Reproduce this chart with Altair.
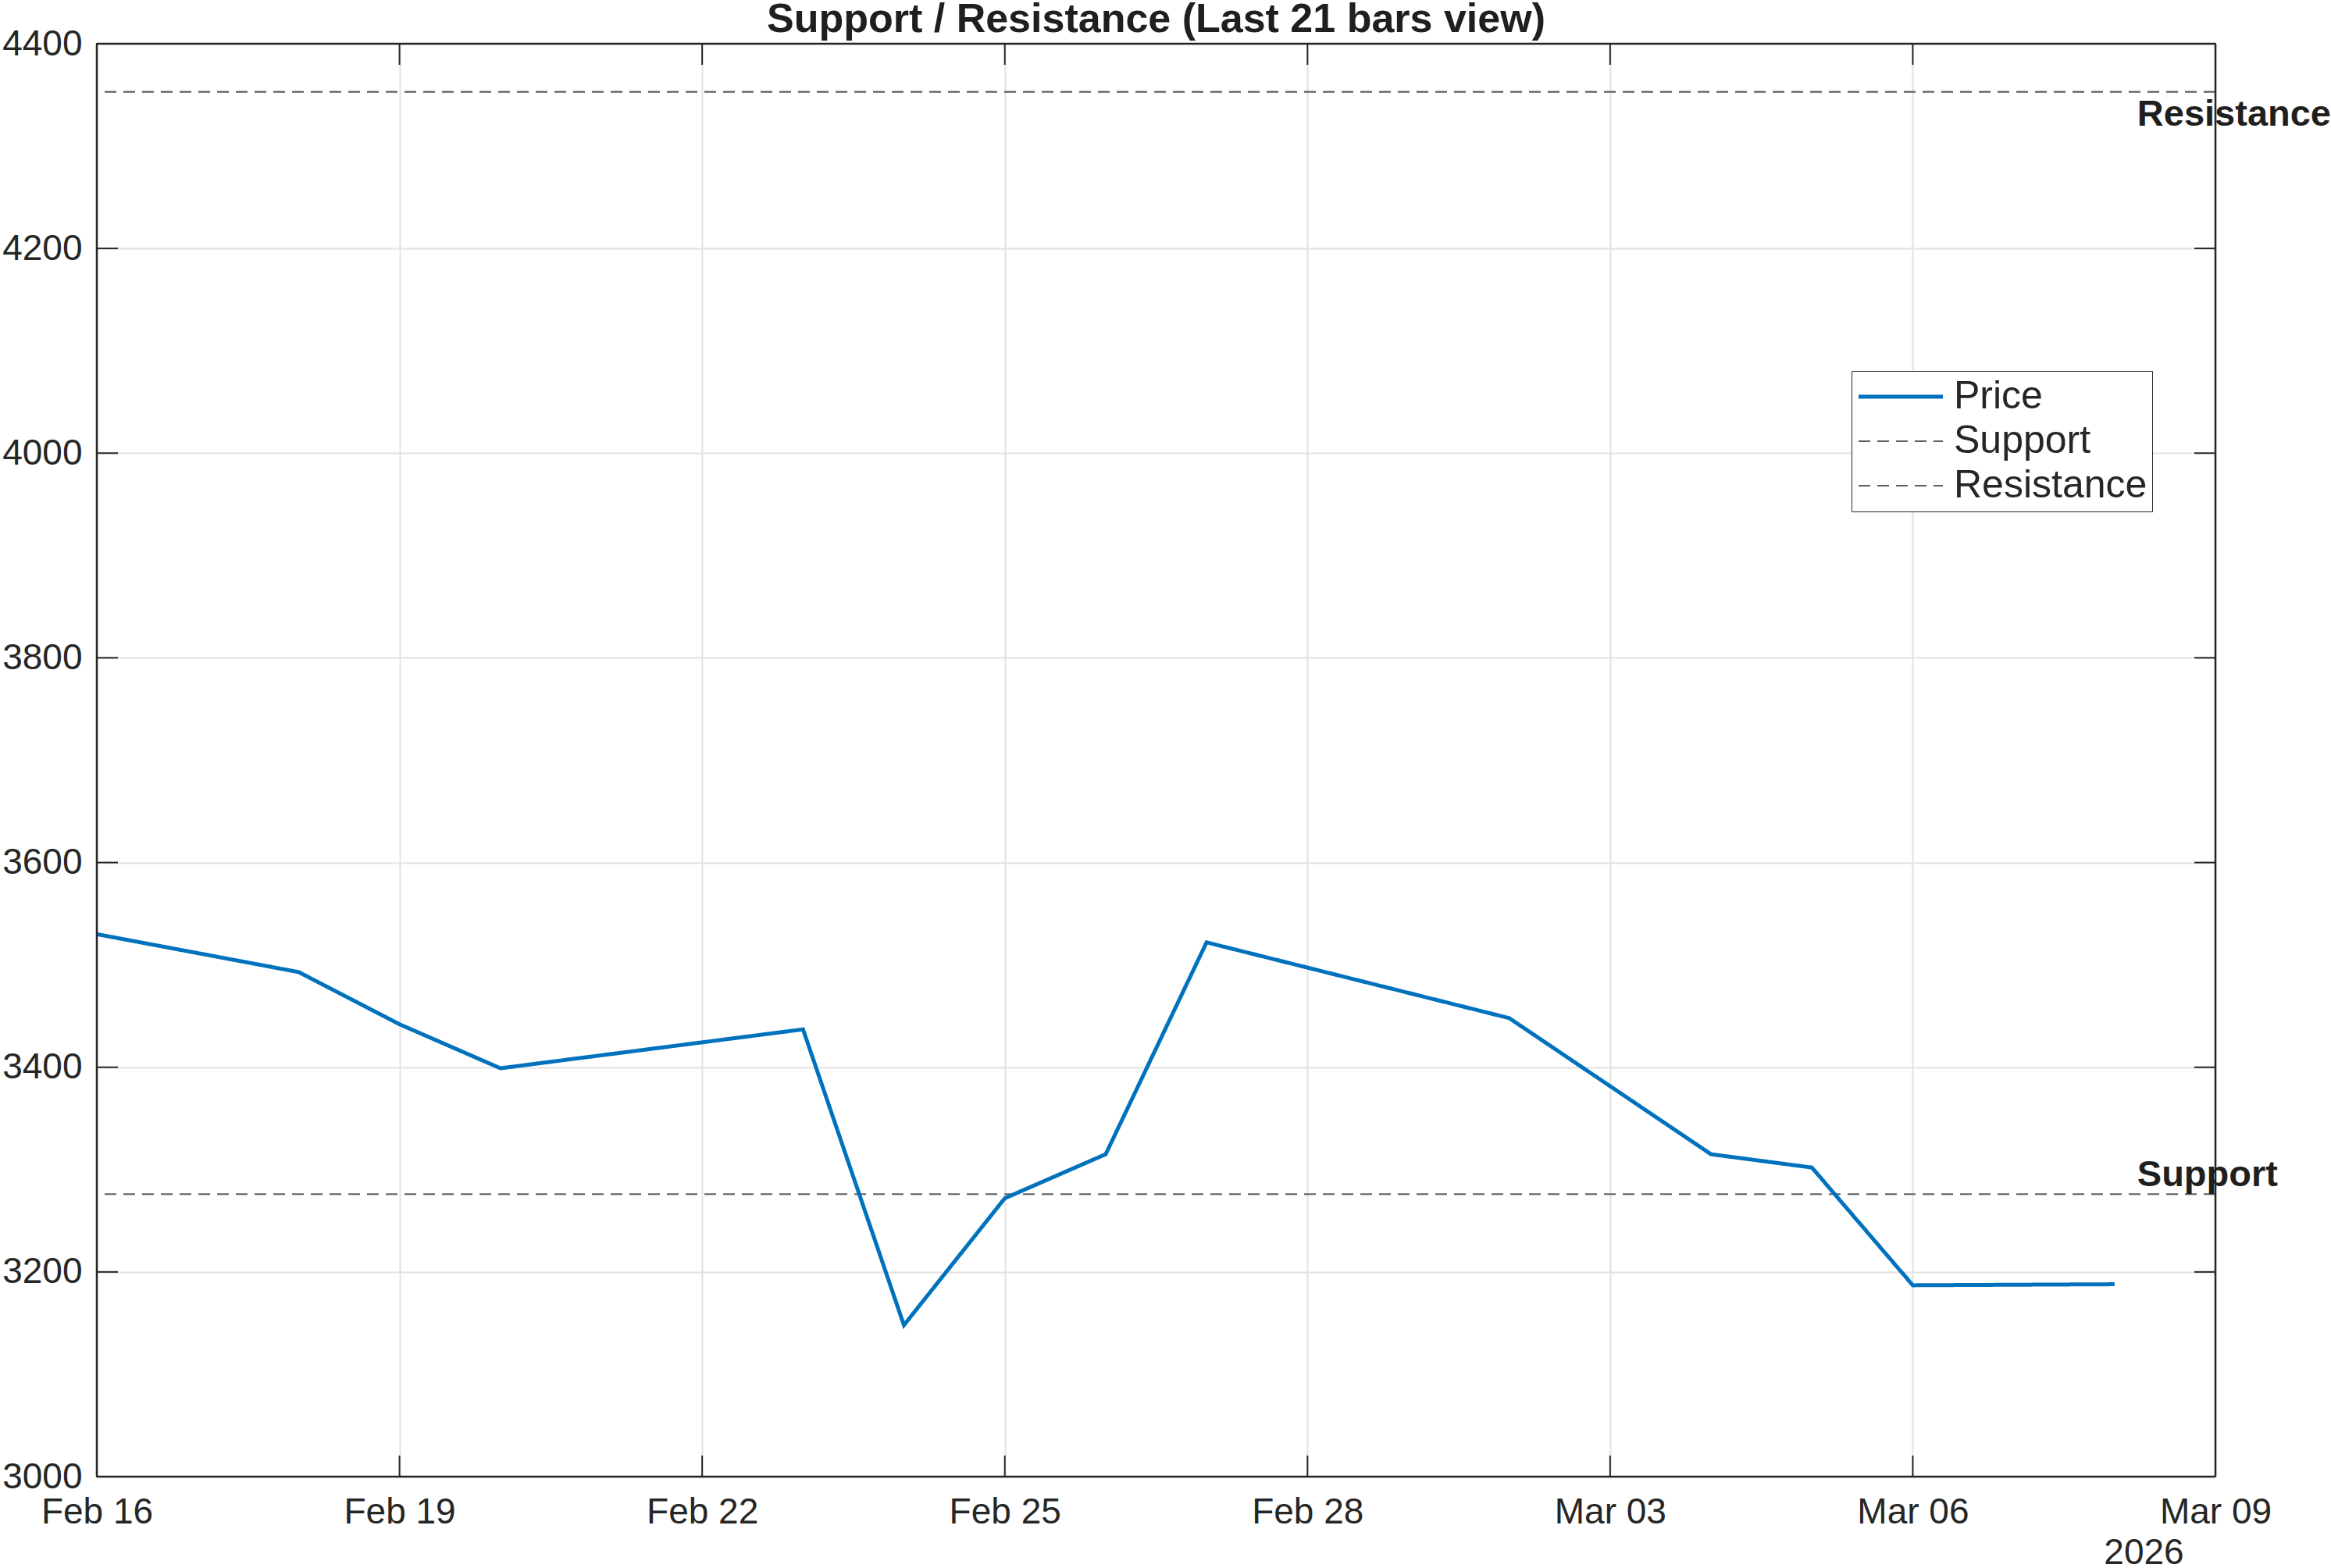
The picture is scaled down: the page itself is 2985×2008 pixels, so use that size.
import altair as alt
import pandas as pd

# ---- data ----
dates = ["2026-02-16", "2026-02-18", "2026-02-19", "2026-02-20", "2026-02-23",
         "2026-02-24", "2026-02-25", "2026-02-26", "2026-02-27", "2026-03-02",
         "2026-03-04", "2026-03-05", "2026-03-06", "2026-03-08"]
prices = [3530, 3493, 3442, 3399, 3437, 3148, 3272, 3315, 3522, 3448,
          3315, 3302, 3187, 3188]
support_level = 3276
resistance_level = 4353
series_names = ["Price", "Support", "Resistance"]
y_ticks = [3000, 3200, 3400, 3600, 3800, 4000, 4200, 4400]
x_tick_dates = ["2026-02-16", "2026-02-19", "2026-02-22", "2026-02-25",
                "2026-02-28", "2026-03-03", "2026-03-06", "2026-03-09"]
title_text = "Support / Resistance (Last 21 bars view)"
year_label = "2026"

# ---- layout / style ----
W, H = 2713, 1835
TICK = 27
FONT = "Liberation Sans"
TXT = "#262626"
BLUE = "#0072BD"
GRAY = "#5e5e5e"

price_df = pd.DataFrame({"date": dates, "value": prices, "series": ["Price"] * len(dates)})
level_df = pd.DataFrame({"date": [dates[-1], dates[-1]],
                         "value": [support_level, resistance_level],
                         "series": ["Support", "Resistance"]})
ytick_df = pd.DataFrame({"value": y_ticks})
xtick_df = pd.DataFrame({"date": x_tick_dates})
frame_y_df = pd.DataFrame({"value": [y_ticks[0], y_ticks[-1]]})
frame_x_df = pd.DataFrame({"date": [x_tick_dates[0], x_tick_dates[-1]]})
title_df = pd.DataFrame({"title": [title_text]})


def dt(s):
    y, m, d = (int(p) for p in s.split("-"))
    return alt.DateTime(year=y, month=m, date=d, utc=True)


x_scale = alt.Scale(type="utc", domain=[dt(x_tick_dates[0]), dt(x_tick_dates[-1])])
y_scale = alt.Scale(domain=[y_ticks[0], y_ticks[-1]], nice=False, zero=False)

color_scale = alt.Scale(domain=series_names, range=[BLUE, GRAY, GRAY])
dash_scale = alt.Scale(domain=series_names, range=[[1, 0], [15, 9], [15, 9]])

legend = alt.Legend(
    title=None, orient="none", legendX=2247, legendY=419,
    symbolType="M-2,0H2", symbolSize=54 * 54, clipHeight=54, rowPadding=3,
    padding=6, symbolOffset=32, labelOffset=43,
    labelFontSize=50, labelFont=FONT, labelColor=TXT, labelLimit=0,
    strokeColor=TXT, fillColor="white", cornerRadius=0,
    symbolStrokeWidth=alt.ExprRef("datum.value === 'Price' ? 5 : 2"),
)

x_axis = alt.Axis(
    values=[dt(s) for s in x_tick_dates], format="%b %d", ticks=False, domain=False,
    grid=True, gridColor="#e2e2e2", gridWidth=2,
    labelFont=FONT, labelFontSize=46, labelColor=TXT, labelPadding=23,
    labelOverlap=False, labelFlush=False,
    title=year_label, titleFont=FONT, titleFontSize=46, titleFontWeight="normal",
    titleColor=TXT, titleX=2621, titleY=111, titleAlign="center",
    titleBaseline="alphabetic", titleAnchor="start",
)
y_axis = alt.Axis(
    values=y_ticks, format="d", ticks=False, domain=False,
    grid=True, gridColor="#e2e2e2", gridWidth=2,
    labelFont=FONT, labelFontSize=46, labelColor=TXT, labelPadding=19,
    title=None,
)

X = alt.X("date:T", scale=x_scale, axis=x_axis)
Y = alt.Y("value:Q", scale=y_scale, axis=y_axis)

enc_series = dict(
    color=alt.Color("series:N", scale=color_scale, legend=legend),
    strokeDash=alt.StrokeDash("series:N", scale=dash_scale, legend=legend),
)

levels = alt.Chart(level_df).mark_rule(strokeWidth=2.2).encode(y=Y, **enc_series)
price = alt.Chart(price_df).mark_line(strokeWidth=5).encode(x=X, y=Y, **enc_series)

frame_style = dict(color=TXT, strokeWidth=2.5)
frame_h = alt.Chart(frame_y_df).mark_rule(**frame_style).encode(y=Y)
frame_v = alt.Chart(frame_x_df).mark_rule(**frame_style).encode(x=X)

tick_style = dict(color=TXT, strokeWidth=2)
left_ticks = alt.Chart(ytick_df).mark_rule(**tick_style).encode(
    y=Y, x=alt.value(0), x2=alt.value(TICK))
right_ticks = alt.Chart(ytick_df).mark_rule(**tick_style).encode(
    y=Y, x=alt.value(W - TICK), x2=alt.value(W))
bottom_ticks = alt.Chart(xtick_df).mark_rule(**tick_style).encode(
    x=X, y=alt.value(H - TICK), y2=alt.value(H))
top_ticks = alt.Chart(xtick_df).mark_rule(**tick_style).encode(
    x=X, y=alt.value(0), y2=alt.value(TICK))

label_style = dict(font=FONT, fontSize=47, fontWeight="bold", color="#1f1f1f",
                   align="left", baseline="alphabetic", dx=29)
res_text = alt.Chart(level_df).transform_filter(
    alt.datum.series == "Resistance").mark_text(dy=43, **label_style).encode(
    x=X, y=Y, text="series:N")
sup_text = alt.Chart(level_df).transform_filter(
    alt.datum.series == "Support").mark_text(dy=-10, **label_style).encode(
    x=X, y=Y, text="series:N")

# chart title, drawn as text centred over the plot area
title_mark = alt.Chart(title_df).mark_text(
    font=FONT, fontSize=52, fontWeight="bold", color="#1f1f1f",
    align="center", baseline="alphabetic",
).encode(text="title:N", x=alt.value(W / 2), y=alt.value(-15))

chart = alt.layer(
    levels, price, frame_h, frame_v, left_ticks, right_ticks, bottom_ticks, top_ticks,
    res_text, sup_text, title_mark
).properties(
    width=W, height=H,
    padding={"left": 124, "top": 56, "right": 148, "bottom": 117},
    autosize=alt.AutoSizeParams(type="none"),
    background="white",
).configure_view(
    stroke=TXT, strokeWidth=2
)

chart.save("out.html", embed_options={"renderer": "svg", "actions": False})
